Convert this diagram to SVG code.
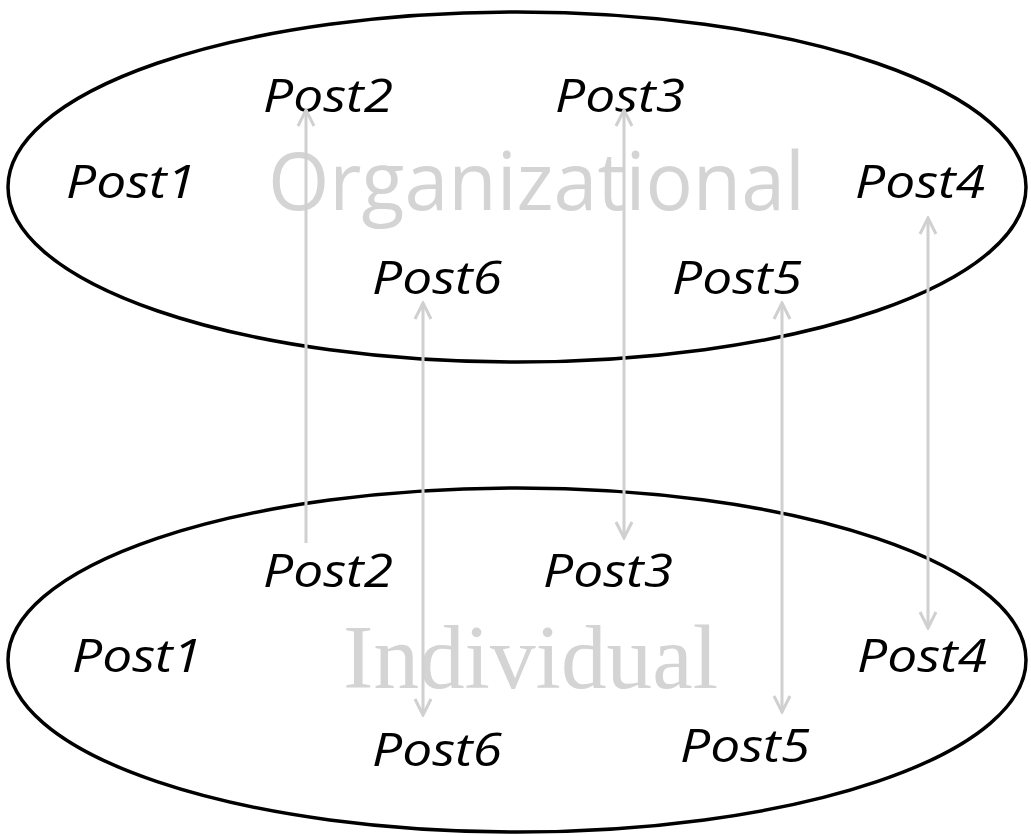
<svg xmlns="http://www.w3.org/2000/svg" width="1031" height="836" viewBox="0 0 1031 836">
<defs>
<marker id="arr" viewBox="0 0 20 20" refX="18" refY="10" markerWidth="20" markerHeight="20" markerUnits="userSpaceOnUse" orient="auto-start-reverse">
<path d="M2,2 L18,10 L2,18" fill="none" stroke="#d0d0d0" stroke-width="3"/>
</marker>
</defs>
<style>
.post{font-family:"Open Sans","Liberation Sans",Arial,sans-serif;font-style:italic;font-size:45px;fill:#000}
.ell{fill:none;stroke:#000;stroke-width:3.5}
.link{stroke:#d0d0d0;stroke-width:3;fill:none}
</style>
<rect width="1031" height="836" fill="#fff"/>
<g id="organizational">
<ellipse class="ell" cx="517" cy="187" rx="509" ry="175"/>
<text x="268" y="210" font-family="'Open Sans','Liberation Sans',Arial,sans-serif" font-size="80" fill="#d4d4d4" textLength="537" lengthAdjust="spacingAndGlyphs">Organizational</text>
</g>
<g id="individual">
<ellipse class="ell" cx="517" cy="660" rx="509" ry="172"/>
<text x="343" y="688" font-family="'Liberation Serif','Times New Roman',serif" font-size="90" fill="#d4d4d4" textLength="375" lengthAdjust="spacingAndGlyphs">Individual</text>
</g>
<g id="org-posts">
<text class="post" x="263" y="112" textLength="130" lengthAdjust="spacingAndGlyphs">Post2</text>
<text class="post" x="555" y="112" textLength="130" lengthAdjust="spacingAndGlyphs">Post3</text>
<text class="post" x="66" y="198" textLength="130" lengthAdjust="spacingAndGlyphs">Post1</text>
<text class="post" x="855" y="198" textLength="130" lengthAdjust="spacingAndGlyphs">Post4</text>
<text class="post" x="372" y="294" textLength="130" lengthAdjust="spacingAndGlyphs">Post6</text>
<text class="post" x="672" y="294" textLength="130" lengthAdjust="spacingAndGlyphs">Post5</text>
</g>
<g id="ind-posts">
<text class="post" x="263" y="587" textLength="130" lengthAdjust="spacingAndGlyphs">Post2</text>
<text class="post" x="543" y="587" textLength="130" lengthAdjust="spacingAndGlyphs">Post3</text>
<text class="post" x="72" y="672" textLength="130" lengthAdjust="spacingAndGlyphs">Post1</text>
<text class="post" x="857" y="672" textLength="130" lengthAdjust="spacingAndGlyphs">Post4</text>
<text class="post" x="372" y="766" textLength="130" lengthAdjust="spacingAndGlyphs">Post6</text>
<text class="post" x="680" y="762" textLength="130" lengthAdjust="spacingAndGlyphs">Post5</text>
</g>
<g id="connectors">
<line class="link" x1="306" y1="543" x2="306" y2="110" marker-end="url(#arr)"/>
<line class="link" x1="624" y1="110" x2="624" y2="538" marker-start="url(#arr)" marker-end="url(#arr)"/>
<line class="link" x1="423" y1="303" x2="423" y2="715" marker-start="url(#arr)" marker-end="url(#arr)"/>
<line class="link" x1="782" y1="303" x2="782" y2="712" marker-start="url(#arr)" marker-end="url(#arr)"/>
<line class="link" x1="928" y1="218" x2="928" y2="628" marker-start="url(#arr)" marker-end="url(#arr)"/>
</g>
</svg>
